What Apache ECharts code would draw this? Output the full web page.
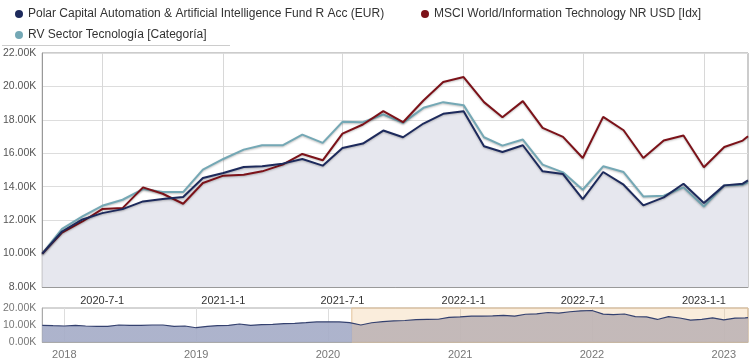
<!DOCTYPE html>
<html><head><meta charset="utf-8">
<script src="https://cdn.jsdelivr.net/npm/echarts@6/dist/echarts.min.js"></script>
<style>html,body{margin:0;padding:0;background:#fff}#c{width:756px;height:363px}</style>
</head><body><div id="c"></div>
<script>
const seriesNames = [
  'Polar Capital Automation & Artificial Intelligence Fund R Acc (EUR)',
  'MSCI World/Information Technology NR USD [Idx]',
  'RV Sector Tecnología [Categoría]'
];
const mainDates = [
  '2020-04-01','2020-05-01','2020-06-01','2020-07-01','2020-08-01','2020-09-01','2020-10-01','2020-11-01','2020-12-01',
  '2021-01-01','2021-02-01','2021-03-01','2021-04-01','2021-05-01','2021-06-01','2021-07-01','2021-08-01','2021-09-01','2021-10-01','2021-11-01','2021-12-01',
  '2022-01-01','2022-02-01','2022-03-01','2022-04-01','2022-05-01','2022-06-01','2022-07-01','2022-08-01','2022-09-01','2022-10-01','2022-11-01','2022-12-01',
  '2023-01-01','2023-02-01','2023-03-01','2023-03-09'
];
const fundValues = [
  10000,11320,12040,12420,12660,13120,13260,13380,14520,
  14820,15180,15220,15380,15660,15260,16320,16580,17360,16960,17780,18360,
  18520,16420,16080,16480,14920,14760,13260,14880,14120,12880,13360,14180,
  13020,14080,14180,14380
];
const msciValues = [
  10000,11260,11920,12660,12720,13960,13580,12980,14220,
  14660,14720,14920,15320,15960,15580,17180,17720,18520,17860,19160,20260,
  20560,19060,18160,19120,17520,16980,15720,18180,17380,15720,16760,17060,
  15160,16380,16760,17020
];
const categoryValues = [
  10000,11480,12220,12860,13220,13860,13680,13680,15020,
  15660,16220,16480,16480,17120,16620,17880,17860,18320,17820,18720,19060,
  18880,16960,16460,16820,15320,14860,13820,15220,14880,13420,13460,13960,
  12820,14080,14120,14260
];
// longer fund history shown only in the navigator strip
const historyDates = [
  '2017-11-01','2017-12-01',
  '2018-01-01','2018-02-01','2018-03-01','2018-04-01','2018-05-01','2018-06-01','2018-07-01','2018-08-01','2018-09-01','2018-10-01','2018-11-01','2018-12-01',
  '2019-01-01','2019-02-01','2019-03-01','2019-04-01','2019-05-01','2019-06-01','2019-07-01','2019-08-01','2019-09-01','2019-10-01','2019-11-01','2019-12-01',
  '2020-01-01','2020-02-01','2020-03-01'
];
const historyValues = [
  9800,9600,
  9400,9800,9400,9200,9200,10000,9800,9800,10000,10000,9200,9400,
  8400,9200,9600,9800,10600,9800,10200,10400,10800,11000,11400,11800,
  11900,11800,11400
];
const xTickLabels = ['2020-7-1','2021-1-1','2021-7-1','2022-1-1','2022-7-1','2023-1-1'];
const navTickLabels = ['2018','2019','2020','2021','2022','2023'];
const mainRange = ['2020-04-01','2023-03-09'];
const navRange = ['2017-11-01','2023-03-09'];
const navSelection = ['2020-03-07','2023-03-09'];

function ts(s){ const p = s.split('-').map(Number); return Date.UTC(p[0], (p[1]||1)-1, p[2]||1); }
function pairs(dates, vals){ return dates.map((d,i)=>[ts(d), vals[i]]); }
const kfmt = v => (v/1000).toFixed(2) + 'K';
const xTickValues = xTickLabels.map(ts);
const navTickValues = navTickLabels.map(ts);
const navDates = historyDates.concat(mainDates);
const navValues = historyValues.concat(fundValues);
const navFirst = ts(navDates[0]), navLast = ts(navDates[navDates.length-1]);
const selFrac = (ts(navSelection[0]) - navFirst) / (navLast - navFirst);

const chart = echarts.init(document.getElementById('c'), null, {renderer:'canvas'});
const FONT = 'Liberation Sans, Arial, sans-serif';
const legendBase = {icon:'circle', itemWidth:8, itemHeight:8, selectedMode:false,
  textStyle:{fontSize:12, color:'#333', fontFamily:FONT}};
const lineShadow = {shadowBlur:2, shadowColor:'rgba(0,0,0,0.25)', shadowOffsetY:1};

chart.setOption({
  animation:false,
  textStyle:{fontFamily:FONT},
  legend:[
    Object.assign({data:[seriesNames[0]], left:10, top:3}, legendBase),
    Object.assign({data:[seriesNames[1]], left:416, top:3}, legendBase),
    Object.assign({data:[seriesNames[2]], left:10, top:24}, legendBase)
  ],
  graphic:[{type:'line', shape:{x1:2,y1:45.5,x2:230,y2:45.5}, style:{stroke:'#ccc', lineWidth:1}, silent:true}],
  grid:[
    {left:42, right:8, top:53, height:234, show:true, borderColor:'#999', borderWidth:1, backgroundColor:'#fff'},
    {left:42, right:8, top:308, height:34, show:true, borderColor:'#aaa', borderWidth:1, backgroundColor:'#fff'}
  ],
  xAxis:[
    {type:'value', gridIndex:0, min:ts(mainRange[0]), max:ts(mainRange[1]),
     axisLine:{show:true, lineStyle:{color:'#999'}},
     axisTick:{show:false, customValues:xTickValues},
     axisLabel:{customValues:xTickValues, color:'#333', fontSize:11, margin:8,
       formatter: v => xTickLabels[xTickValues.indexOf(v)] || ''},
     splitLine:{show:true, lineStyle:{color:'#d8d8d8'}}},
    {type:'value', gridIndex:1, min:ts(navRange[0]), max:ts(navRange[1]),
     axisLine:{show:true, lineStyle:{color:'#aaa'}},
     axisTick:{show:false, customValues:navTickValues},
     axisLabel:{customValues:navTickValues, color:'#777', fontSize:11, margin:7,
       formatter: v => navTickLabels[navTickValues.indexOf(v)] || ''},
     splitLine:{show:true, lineStyle:{color:'#ddd'}}}
  ],
  yAxis:[
    {type:'value', gridIndex:0, min:8000, max:22000, interval:2000,
     axisLine:{show:true, lineStyle:{color:'#999'}}, axisTick:{show:false},
     axisLabel:{formatter:kfmt, color:'#555', fontSize:10.5, margin:6},
     splitLine:{show:true, lineStyle:{color:'#ddd'}}},
    {type:'value', gridIndex:1, min:0, max:20000, interval:10000,
     axisLine:{show:true, lineStyle:{color:'#aaa'}}, axisTick:{show:false},
     axisLabel:{formatter:kfmt, color:'#777', fontSize:10.5, margin:6},
     splitLine:{show:false}}
  ],
  series:[
    {name:'fundArea', type:'line', xAxisIndex:0, yAxisIndex:0, data:pairs(mainDates, fundValues),
     symbol:'none', silent:true, lineStyle:{width:0}, areaStyle:{color:'#e6e7ee', opacity:1}, z:1},
    {name:seriesNames[2], type:'line', xAxisIndex:0, yAxisIndex:0, data:pairs(mainDates, categoryValues),
     symbol:'none', color:'#74a8b5', lineStyle:Object.assign({width:2}, lineShadow), z:3},
    {name:seriesNames[1], type:'line', xAxisIndex:0, yAxisIndex:0, data:pairs(mainDates, msciValues),
     symbol:'none', color:'#7c1219', lineStyle:Object.assign({width:2}, lineShadow), z:3},
    {name:seriesNames[0], type:'line', xAxisIndex:0, yAxisIndex:0, data:pairs(mainDates, fundValues),
     symbol:'none', color:'#1d2a5c', lineStyle:Object.assign({width:2}, lineShadow), z:4},
    {name:'navigator', type:'line', xAxisIndex:1, yAxisIndex:1,
     data:pairs(navDates, navValues),
     symbol:'none', silent:true, lineStyle:{width:1.2, color:'#34416f'},
     areaStyle:{opacity:0.92, color:new echarts.graphic.LinearGradient(0,0,1,0,[
       {offset:0, color:'#a6adc8'},{offset:selFrac, color:'#a6adc8'},
       {offset:selFrac, color:'#bfb5b6'},{offset:1, color:'#bfb5b6'}])}, z:3,
     markArea:{silent:true, itemStyle:{color:'rgba(238,196,140,0.3)', borderColor:'#e3c39b', borderWidth:1},
       data:[[{xAxis:ts(navSelection[0])},{xAxis:ts(navSelection[1])}]]}}
  ]
});
</script></body></html>
